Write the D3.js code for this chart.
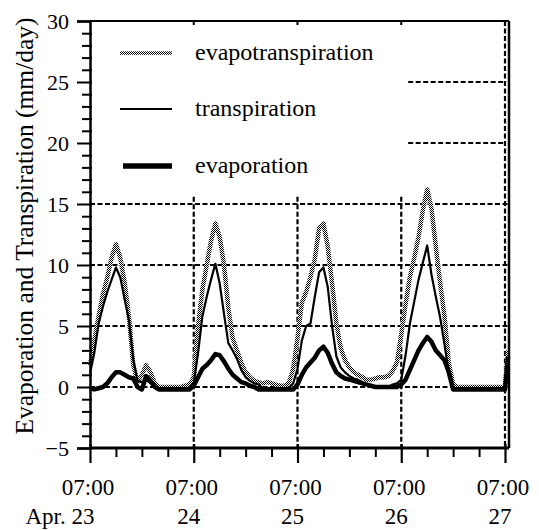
<!DOCTYPE html>
<html><head><meta charset="utf-8">
<script src="https://cdn.jsdelivr.net/npm/d3@7"></script>
<style>
body{margin:0;background:#fff}
svg{display:block}
</style>
</head><body>
<svg id="c" width="539" height="530"></svg>
<script>
// hours after 07:00, Apr. 23
const hours = [...d3.range(0, 97), 96.7];

const evapotranspiration = [
  1.8,3.8,5.8,7.6,9.0,10.6,11.7,10.6,8.6,5.8,1.8,0.4,1.0,1.8,1.2,0.3,0,0,0,0,0,0,0.1,0.2,
  0.8,5.0,8.0,10.0,12.0,13.4,12.3,10.0,6.5,4.0,3.0,2.0,1.2,0.8,0.5,0.4,0.3,0.4,0.3,0.2,0.1,0.1,0.3,1.5,
  4.0,6.9,7.8,9.0,10.5,13.0,13.4,11.5,8.5,5.2,3.2,2.2,1.6,1.2,1.0,0.8,0.6,0.6,0.7,0.8,0.8,0.9,1.3,2.0,
  4.3,6.8,9.0,10.6,12.3,14.5,16.2,14.6,11.5,8.5,5.8,2.0,0.2,0,0,0,0,0,0,0,0,0,0,0,
  0,3.0
];
const transpiration = [
  1.1,2.8,5.2,6.6,7.8,8.8,9.8,9.0,7.2,5.5,2.3,0.5,0.4,0.6,0.3,0,-0.1,-0.1,-0.1,-0.1,-0.1,-0.1,-0.1,-0.1,
  0.3,2.8,5.8,7.4,8.8,10.1,8.5,6.0,3.6,3.0,2.3,1.4,0.8,0.5,0.3,0.2,-0.1,-0.1,-0.1,-0.1,-0.1,-0.1,-0.1,0.3,
  1.5,3.8,5.0,5.2,7.4,9.4,9.8,8.2,5.0,2.5,1.6,1.2,0.9,0.7,0.6,0.4,0.2,0,0,0,0,0,0.2,0.3,
  0.6,2.6,5.2,7.0,8.8,10.2,11.6,9.2,7.4,5.7,3.5,1.2,-0.1,-0.1,-0.1,-0.1,-0.1,-0.1,-0.1,-0.1,-0.1,-0.1,-0.1,-0.1,
  -0.1,2.0
];
const evaporation = [
  -0.1,-0.2,-0.1,0,0.3,0.8,1.2,1.2,1.0,0.8,0.7,0,-0.2,0.9,0.5,0,-0.2,-0.2,-0.2,-0.2,-0.2,-0.2,-0.2,-0.2,
  0.1,0.8,1.5,1.8,2.2,2.7,2.6,2.1,1.5,1.0,0.7,0.4,0.3,0.1,0,-0.2,-0.2,-0.2,-0.2,-0.2,-0.2,-0.2,-0.2,-0.2,
  0.2,1.0,1.6,2.0,2.4,3.0,3.3,2.8,1.9,1.2,0.9,0.7,0.6,0.5,0.4,0.3,0.2,0.1,0,0,0,0,0,0,
  0.2,0.6,1.4,2.2,3.0,3.6,4.1,3.7,3.0,2.6,2.2,1.2,-0.2,-0.2,-0.2,-0.2,-0.2,-0.2,-0.2,-0.2,-0.2,-0.2,-0.2,-0.2,
  -0.2,2.5
];

const yMajorTicks = [-5,0,5,10,15,20,25,30];
const yMinorTicks = d3.range(-5, 31, 1);
const xMajorTicks = [0,24,48,72,96];
const xMinorTicks = d3.range(0, 97, 6);
const timeLabels = ["07:00","07:00","07:00","07:00","07:00"];
const dayLabels = ["Apr. 23","24","25","26","27"];
const fullGrid = [0,5,10,15];
const partGrid = [20,25];
const vGrid = [24,48,72];
const legendNames = ["evapotranspiration","transpiration","evaporation"];

const svg = d3.select("#c");
const x = d3.scaleLinear().domain([0,96]).range([90,505]);
const y = d3.scaleLinear().domain([-5,30]).range([448,21]);
const L = 90, R = 509, T = 21, B = 448;
const FONT = '"Liberation Serif"';

const defs = svg.append("defs");
const pat = defs.append("pattern").attr("id","stip").attr("width",2).attr("height",2)
  .attr("patternUnits","userSpaceOnUse");
pat.append("rect").attr("width",2).attr("height",2).attr("fill","#fff");
pat.append("rect").attr("width",1).attr("height",1).attr("fill","#000");
pat.append("rect").attr("x",1).attr("y",1).attr("width",1).attr("height",1).attr("fill","#000");

// grid
const g = svg.append("g").attr("stroke","#000").attr("stroke-width",2.2).attr("stroke-dasharray","5,2.5").attr("fill","none");
fullGrid.forEach(v => g.append("line").attr("x1",L).attr("x2",R).attr("y1",y(v)).attr("y2",y(v)));
partGrid.forEach(v => g.append("line").attr("x1",x(73.6)).attr("x2",x(96)).attr("y1",y(v)).attr("y2",y(v)));
vGrid.forEach(t => g.append("line").attr("x1",x(t)).attr("x2",x(t)).attr("y1",y(15.6)).attr("y2",B));
g.append("line").attr("x1",x(96)).attr("x2",x(96)).attr("y1",T).attr("y2",B);

// data lines
const line = arr => d3.line().x((d,i)=>x(hours[i])).y(d=>y(d))(arr);
svg.append("path").attr("d",line(evapotranspiration)).attr("fill","none")
  .attr("stroke","url(#stip)").attr("stroke-width",4.5).attr("stroke-linejoin","round");
svg.append("path").attr("d",line(transpiration)).attr("fill","none")
  .attr("stroke","#000").attr("stroke-width",2.2).attr("stroke-linejoin","round");
svg.append("path").attr("d",line(evaporation)).attr("fill","none")
  .attr("stroke","#000").attr("stroke-width",4.5).attr("stroke-linejoin","round");

// frame
svg.append("line").attr("x1",L).attr("x2",R).attr("y1",T).attr("y2",T).attr("stroke","#000").attr("stroke-width",2);
svg.append("line").attr("x1",R).attr("x2",R).attr("y1",T).attr("y2",B).attr("stroke","#000").attr("stroke-width",2.5);
vGrid.forEach(t => svg.append("line").attr("x1",x(t)).attr("x2",x(t)).attr("y1",T).attr("y2",T+4).attr("stroke","#000").attr("stroke-width",2));

// y axis
const ya = svg.append("g").attr("transform",`translate(${L},0)`)
  .call(d3.axisLeft(y).tickValues(yMajorTicks).tickSize(13).tickPadding(8).tickFormat(d3.format("d")));
ya.attr("font-family",null);
ya.select(".domain").attr("stroke-width",2.5);
ya.selectAll(".tick line").attr("stroke-width",2).attr("x1",2);
ya.selectAll(".tick text").attr("font-size",22).style("font-family",FONT);
const yma = svg.append("g").attr("transform",`translate(${L},0)`)
  .call(d3.axisLeft(y).tickValues(yMinorTicks.filter(v=>!yMajorTicks.includes(v))).tickSize(8).tickFormat(""));
yma.select(".domain").remove();
yma.selectAll(".tick line").attr("stroke-width",2).attr("x1",2);

// x axis
const xa = svg.append("g").attr("transform",`translate(0,${B})`)
  .call(d3.axisBottom(x).tickValues(xMajorTicks).tickSize(15).tickFormat("").tickSizeOuter(0));
xa.select(".domain").attr("stroke-width",3).attr("d",`M${L},0H${R}`);
xa.selectAll(".tick line").attr("stroke-width",2.2).attr("y1",-4);
const xma = svg.append("g").attr("transform",`translate(0,${B})`)
  .call(d3.axisBottom(x).tickValues(xMinorTicks.filter(v=>!xMajorTicks.includes(v))).tickSize(9).tickFormat(""));
xma.select(".domain").remove();
xma.selectAll(".tick line").attr("stroke-width",2);

xMajorTicks.forEach((t,i) => {
  svg.append("text").attr("x",x(t)-2).attr("y",495).attr("text-anchor","middle")
    .attr("font-size",23).style("font-family",FONT).text(timeLabels[i]);
  svg.append("text").attr("x", i===0 ? x(t)-30 : x(t)-5).attr("y",524).attr("text-anchor","middle")
    .attr("font-size",23).style("font-family",FONT).text(dayLabels[i]);
});

// y label
svg.append("text").attr("transform","translate(33,226) rotate(-90)").attr("text-anchor","middle")
  .attr("font-size",25.5).style("font-family",FONT).text("Evaporation and Transpiration (mm/day)");

// legend
const legY = [53,109,166];
const legStroke = ["url(#stip)","#000","#000"];
const legW = [3.5,2,5.5];
const legX1 = [120,120,123];
legendNames.forEach((n,i) => {
  svg.append("line").attr("x1",legX1[i]).attr("x2",172).attr("y1",legY[i]).attr("y2",legY[i])
    .attr("stroke",legStroke[i]).attr("stroke-width",legW[i]);
  svg.append("text").attr("x",195).attr("y",legY[i]+7).attr("font-size",24).style("font-family",FONT).text(n);
});
</script>
</body></html>
